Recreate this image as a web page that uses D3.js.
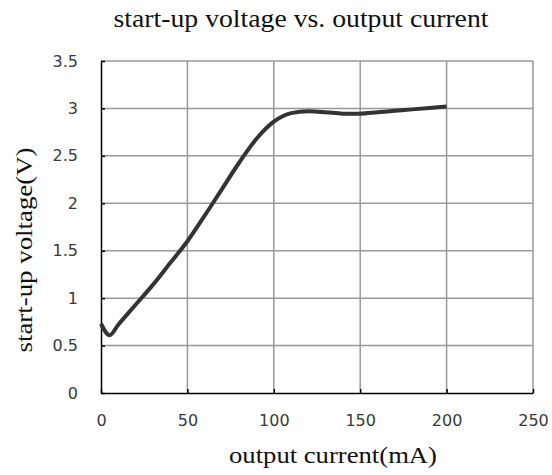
<!DOCTYPE html>
<html><head><meta charset="utf-8">
<script src="https://cdn.jsdelivr.net/npm/d3@7"></script>
<style>body{margin:0;background:#fff}svg{display:block}</style>
</head><body>
<svg id="c" width="552" height="475"></svg>
<script>
const currents = [0,5,10,20,30,40,50,60,70,80,90,100,110,120,130,140,150,160,170,180,190,200];
const voltages = [0.73,0.61,0.72,0.93,1.14,1.37,1.60,1.87,2.15,2.43,2.68,2.86,2.95,2.97,2.96,2.945,2.945,2.96,2.975,2.99,3.005,3.02];
const xTicks = [0,50,100,150,200,250];
const yTicks = [0,0.5,1,1.5,2,2.5,3,3.5];
const title = "start-up voltage vs. output current";
const xTitle = "output current(mA)";
const yTitle = "start-up voltage(V)";

const svg = d3.select("#c");
const L=101, R=533, T=61, B=393;
const x = d3.scaleLinear().domain([0,250]).range([L,R]);
const y = d3.scaleLinear().domain([0,3.5]).range([B,T]);

// grid
svg.append("g").selectAll("line").data(xTicks.filter(d=>d>0)).join("line")
  .attr("x1",d=>x(d)).attr("x2",d=>x(d)).attr("y1",T).attr("y2",B)
  .attr("stroke","#999").attr("stroke-width",1.5);
svg.append("g").selectAll("line").data(yTicks.filter(d=>d>0)).join("line")
  .attr("x1",L).attr("x2",R).attr("y1",d=>y(d)).attr("y2",d=>y(d))
  .attr("stroke","#999").attr("stroke-width",1.5);

const fmt = d=>String(d);
const xa = svg.append("g").attr("transform",`translate(0,${B})`)
  .call(d3.axisBottom(x).tickValues(xTicks).tickFormat(fmt).tickSizeInner(-4).tickSizeOuter(0).tickPadding(22));
const ya = svg.append("g").attr("transform",`translate(${L},0)`)
  .call(d3.axisLeft(y).tickValues(yTicks).tickFormat(fmt).tickSizeInner(-4).tickSizeOuter(0).tickPadding(23));
[xa,ya].forEach(a=>{
  a.select(".domain").attr("stroke","#000").attr("stroke-width",1.5);
  a.selectAll(".tick line").attr("stroke","#000").attr("stroke-width",1.5);
  a.selectAll(".tick text").attr("font-family","'DejaVu Sans', sans-serif").attr("font-size",16).attr("fill","#3a3a3a");
});

const line = d3.line().x((d,i)=>x(currents[i])).y(d=>y(d)).curve(d3.curveMonotoneX);
svg.append("path").datum(voltages).attr("d",line)
  .attr("fill","none").attr("stroke","#333").attr("stroke-width",4).attr("stroke-linejoin","round");

svg.append("text").attr("x",301).attr("y",27).attr("text-anchor","middle")
  .attr("font-family","'Liberation Serif', serif").attr("font-size",25).attr("fill","#111")
  .attr("textLength",375).attr("lengthAdjust","spacingAndGlyphs").text(title);
svg.append("text").attr("x",333).attr("y",463).attr("text-anchor","middle")
  .attr("font-family","'Liberation Serif', serif").attr("font-size",23).attr("fill","#111")
  .attr("textLength",208).attr("lengthAdjust","spacingAndGlyphs").text(xTitle);
svg.append("text").attr("transform","translate(32,250) rotate(-90)").attr("text-anchor","middle")
  .attr("font-family","'Liberation Serif', serif").attr("font-size",23).attr("fill","#111")
  .attr("textLength",205).attr("lengthAdjust","spacingAndGlyphs").text(yTitle);
</script>
</body></html>
